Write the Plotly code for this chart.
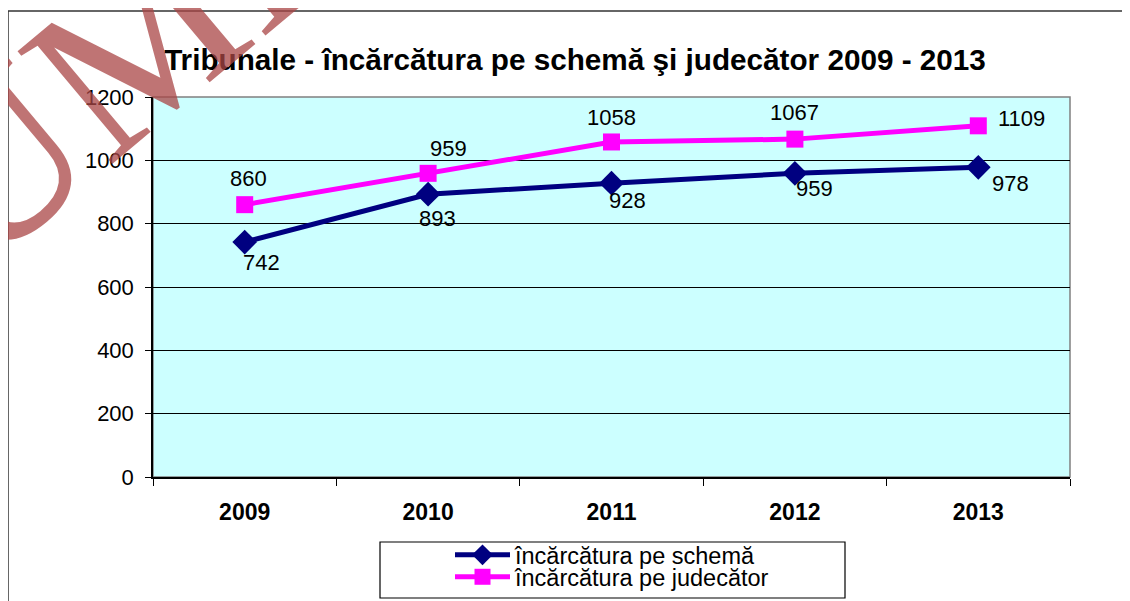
import plotly.graph_objects as go

years = ["2009", "2010", "2011", "2012", "2013"]
per_schema = [742, 893, 928, 959, 978]
per_judecator = [860, 959, 1058, 1067, 1109]
y_ticks = [0, 200, 400, 600, 800, 1000, 1200]

title = "Tribunale - încărcătura pe schemă şi judecător 2009 - 2013"
name_schema = "încărcătura pe schemă"
name_judecator = "încărcătura pe judecător"

NAVY = "#000080"
PINK = "#FF00FF"
FONT = "Liberation Sans, Arial, sans-serif"

# the page puts the figure 8px in from the top-left corner
OFF = 8
W, H = 1130 - OFF, 601 - OFF
# plot area in window pixels (from the reference)
L, R, T, B = 153, 1070, 97, 477


def px_x(v):
    return (v - L) / (R - L)


def px_y(v):
    return (B - v) / (B - T)


fig = go.Figure()

fig.add_trace(go.Scatter(
    x=years, y=per_schema, name=name_schema, mode="lines+markers",
    line=dict(color=NAVY, width=5),
    marker=dict(symbol="diamond", size=19, color=NAVY),
    legend="legend",
))
fig.add_trace(go.Scatter(
    x=years, y=per_judecator, name=name_judecator, mode="lines+markers",
    line=dict(color=PINK, width=5),
    marker=dict(symbol="square", size=17, color=PINK),
    legend="legend2",
))

# data labels, offsets in pixels
schema_shift = [(17, -20), (9, -24), (16, -17), (20, -15), (32, -16)]
judecator_shift = [(4, 26), (20, 25), (0, 24), (0, 27), (43, 7)]

for i in range(len(years)):
    for vals, shifts in ((per_schema, schema_shift), (per_judecator, judecator_shift)):
        fig.add_annotation(
            x=i, y=vals[i], text=str(vals[i]), showarrow=False,
            xshift=shifts[i][0], yshift=shifts[i][1],
            font=dict(family=FONT, size=22, color="black"),
        )

# plot area border (gray) and outer chart border
fig.add_shape(type="rect", xref="paper", yref="paper", x0=0, x1=1, y0=0, y1=1,
              line=dict(color="#808080", width=1.5), layer="below")
fig.add_shape(type="line", xref="paper", yref="paper",
              x0=px_x(8), x1=px_x(8), y0=px_y(11), y1=px_y(620),
              line=dict(color="#333333", width=1.5))
fig.add_shape(type="line", xref="paper", yref="paper",
              x0=px_x(8), x1=px_x(1140), y0=px_y(11), y1=px_y(11),
              line=dict(color="#333333", width=1.5))

# legend box
fig.add_shape(type="rect", xref="paper", yref="paper",
              x0=px_x(380), x1=px_x(845), y0=px_y(542), y1=px_y(598),
              line=dict(color="black", width=1.2), fillcolor="white")

# watermark
fig.add_annotation(
    x=px_x(130), y=px_y(50), xref="paper", yref="paper",
    xanchor="center", yanchor="middle",
    text="UMB", showarrow=False, textangle=-40,
    font=dict(family="Liberation Serif, Times New Roman, serif", size=225,
              color="rgba(170,70,70,0.75)"),
)

legend_common = dict(xanchor="left", yanchor="middle", bgcolor="rgba(0,0,0,0)",
                     borderwidth=0, itemwidth=55,
                     font=dict(family=FONT, size=23.5, color="black"))

fig.update_layout(
    width=W, height=H,
    margin=dict(l=L - OFF, r=W - (R - OFF), t=T - OFF, b=H - (B - OFF),
                autoexpand=False),
    paper_bgcolor="white",
    plot_bgcolor="#CCFFFF",
    title=dict(text="<b>" + title + "</b>", x=(575 - OFF) / W, xanchor="center",
               y=1 - (60 - OFF) / H, yanchor="middle",
               font=dict(family=FONT, size=29.7, color="black")),
    showlegend=True,
    legend=dict(x=px_x(450), y=px_y(555), **legend_common),
    legend2=dict(x=px_x(450), y=px_y(577), **legend_common),
    xaxis=dict(
        type="category", range=[-0.5, len(years) - 0.5],
        showgrid=False, showline=True, linecolor="black", linewidth=1.5,
        ticks="outside", tickson="boundaries", ticklen=7, tickcolor="black",
        tickfont=dict(family=FONT, size=23, color="black", weight="bold"),
        ticklabelstandoff=14,
    ),
    yaxis=dict(
        range=[0, 1200], tickvals=y_ticks,
        showgrid=True, gridcolor="black", gridwidth=1,
        showline=True, linecolor="black", linewidth=1.5,
        ticks="outside", ticklen=6, tickcolor="black",
        tickfont=dict(family=FONT, size=22, color="black"),
        ticklabelstandoff=7, zeroline=False,
    ),
)

fig.write_html("out.html")
